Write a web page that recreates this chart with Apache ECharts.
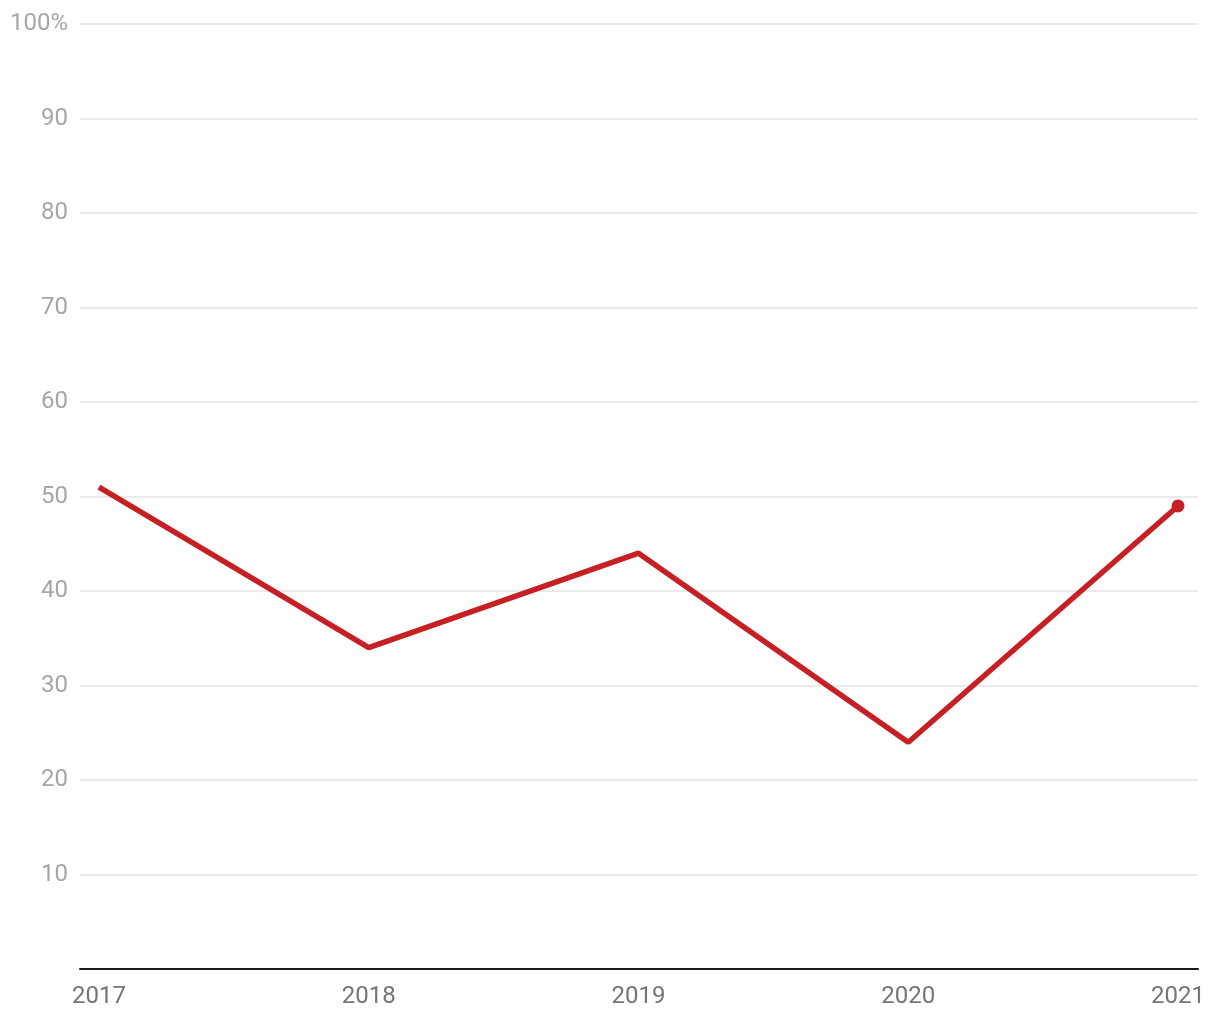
<!DOCTYPE html>
<html>
<head>
<meta charset="utf-8">
<script src="https://cdn.jsdelivr.net/npm/echarts@6/dist/echarts.min.js"></script>
<style>
html,body{margin:0;padding:0;background:#fff;}
#chart{width:1220px;height:1020px;}
</style>
</head>
<body>
<div id="chart"></div>
<script>
const years = [2017, 2018, 2019, 2020, 2021];
const values = [51, 34, 44, 24, 49];
const yTicks = [10, 20, 30, 40, 50, 60, 70, 80, 90, 100];

const chart = echarts.init(document.getElementById('chart'), null, {renderer: 'canvas'});
const last = years.length - 1;
chart.setOption({
  animation: false,
  grid: {left: 80, right: 22, top: 24, bottom: 51, containLabel: false},
  xAxis: {
    type: 'value',
    min: 2016.9296,
    max: 2021.0741,
    splitLine: {show: false},
    axisTick: {show: false},
    axisLine: {show: true, onZero: false, lineStyle: {color: '#1a1a1a', width: 2}},
    axisLabel: {
      customValues: years,
      color: '#757575',
      fontFamily: 'Roboto',
      fontSize: 24,
      margin: 16,
      formatter: v => String(v)
    }
  },
  yAxis: {
    type: 'value',
    min: 0,
    max: 100,
    interval: 10,
    axisLine: {show: false},
    axisTick: {show: false},
    splitLine: {lineStyle: {color: '#e3e3e3', width: 1.5}},
    axisLabel: {
      color: '#a6a6a6',
      fontFamily: 'Roboto',
      fontSize: 24,
      margin: 12,
      formatter: v => v === 0 ? '' : (v === 100 ? '100%' : String(v))
    }
  },
  series: [{
    type: 'line',
    data: years.map((y, i) => ({value: [y, values[i]], symbolSize: i === last ? 13 : 0})),
    symbol: 'circle',
    showSymbol: true,
    lineStyle: {color: '#c61f24', width: 5.5},
    itemStyle: {color: '#c61f24'},
    z: 5
  }]
});
</script>
</body>
</html>
